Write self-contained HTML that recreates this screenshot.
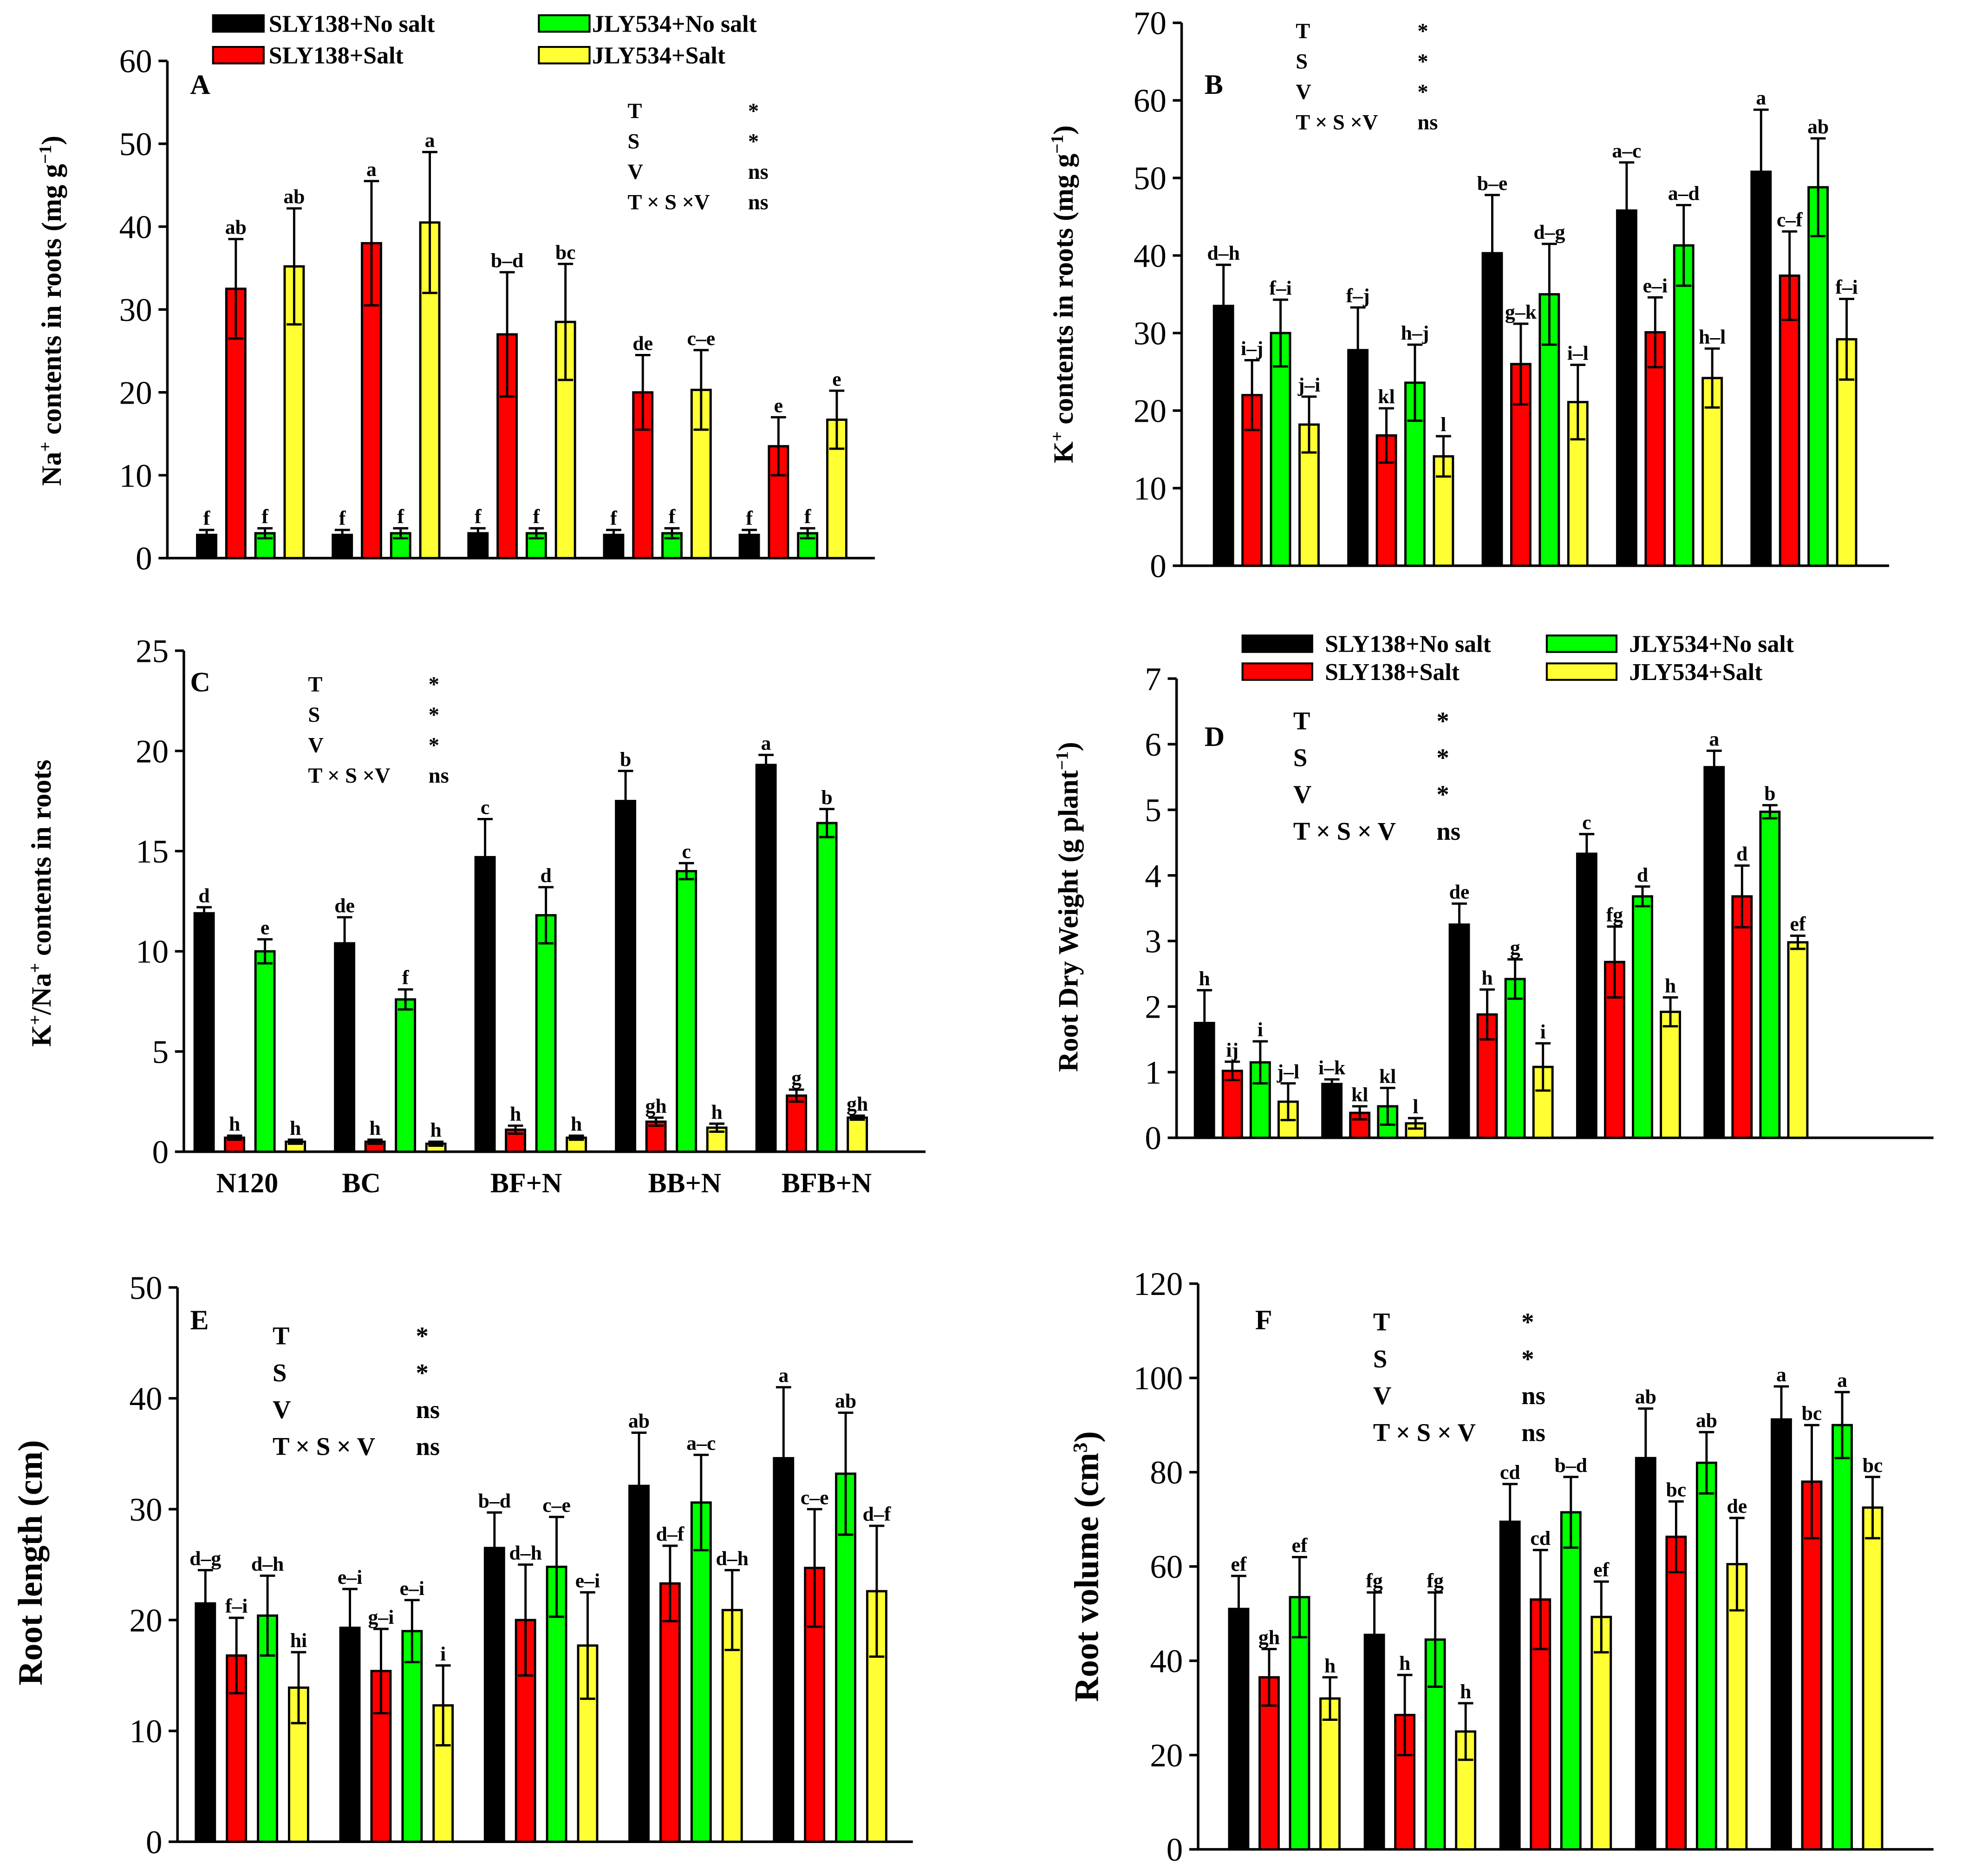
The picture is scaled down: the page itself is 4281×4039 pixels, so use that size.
<!DOCTYPE html>
<html><head><meta charset="utf-8"><style>
html,body{margin:0;padding:0;background:#fff}
svg{display:block}
text{font-family:"Liberation Serif",serif;font-weight:bold;fill:#000}
text.tick{font-weight:normal}
</style></head><body>
<svg id="s" width="4281" height="4039" viewBox="0 0 1568 1479" preserveAspectRatio="none" xmlns="http://www.w3.org/2000/svg">
<g id="g"></g>
</svg>
<script>
// ---- data ----
const groups = ["N120","BC","BF+N","BB+N","BFB+N"];
const seriesNames = ["SLY138+No salt","SLY138+Salt","JLY534+No salt","JLY534+Salt"];
const aVals = [[2.8,2.8,3,2.8,2.8],[32.5,38,27,20,13.5],[3,3,3,3,3],[35.2,40.5,28.5,20.3,16.7]];
const aErr  = [[0.6,0.6,0.6,0.6,0.6],[6,7.5,7.5,4.5,3.5],[0.6,0.6,0.6,0.6,0.6],[7,8.5,7,4.8,3.5]];
const aLet  = [["f","f","f","f","f"],["ab","a","b–d","de","e"],["f","f","f","f","f"],["ab","a","bc","c–e","e"]];
const bVals = [[33.5,27.8,40.3,45.8,50.8],[22,16.8,26,30.1,37.4],[30,23.6,35,41.3,48.8],[18.2,14.1,21.1,24.2,29.2]];
const bErr  = [[5.3,5.5,7.5,6.2,8],[4.5,3.5,5.2,4.5,5.7],[4.3,4.9,6.5,5.2,6.3],[3.6,2.6,4.8,3.8,5.2]];
const bLet  = [["d–h","f–j","b–e","a–c","a"],["i–j","kl","g–k","e–i","c–f"],["f–i","h–j","d–g","a–d","ab"],["j–i","l","i–l","h–l","f–i"]];
const cVals = [[11.9,10.4,14.7,17.5,19.3],[0.7,0.5,1.1,1.5,2.8],[10,7.6,11.8,14,16.4],[0.5,0.4,0.7,1.2,1.7]];
const cErr  = [[0.3,1.3,1.9,1.5,0.5],[0.1,0.1,0.2,0.2,0.3],[0.6,0.5,1.4,0.4,0.7],[0.1,0.1,0.1,0.2,0.1]];
const cLet  = [["d","de","c","b","a"],["h","h","h","gh","g"],["e","f","d","c","b"],["h","h","h","h","gh"]];
const dVals = [[1.75,0.82,3.25,4.33,5.65],[1.02,0.38,1.88,2.68,3.68],[1.15,0.48,2.42,3.68,4.97],[0.55,0.22,1.08,1.92,2.98]];
const dErr  = [[0.5,0.07,0.32,0.3,0.25],[0.14,0.1,0.38,0.54,0.47],[0.32,0.28,0.3,0.15,0.1],[0.28,0.08,0.36,0.22,0.1]];
const dLet  = [["h","i–k","de","c","a"],["ij","kl","h","fg","d"],["i","kl","g","d","b"],["j–l","l","i","h","ef"]];
const eVals = [[21.5,19.3,26.5,32.1,34.6],[16.8,15.4,20,23.3,24.7],[20.4,19,24.8,30.6,33.2],[13.9,12.3,17.7,20.9,22.6]];
const eErr  = [[3,3.5,3.2,4.8,6.4],[3.4,3.8,5,3.4,5.3],[3.6,2.8,4.5,4.3,5.5],[3.2,3.6,4.8,3.6,5.9]];
const eLet  = [["d–g","e–i","b–d","ab","a"],["f–i","g–i","d–h","d–f","c–e"],["d–h","e–i","c–e","a–c","ab"],["hi","i","e–i","d–h","d–f"]];
const fVals = [[51,45.5,69.5,83,91.2],[36.5,28.5,53,66.3,78],[53.5,44.5,71.5,82,90],[32,25,49.3,60.5,72.5]];
const fErr  = [[7,9,8,10.5,7],[6,8.5,10.5,7.5,12],[8.5,10,7.5,6.5,7],[4.5,6,7.5,9.8,6.5]];
const fLet  = [["ef","fg","cd","ab","a"],["gh","h","cd","bc","bc"],["ef","fg","b–d","ab","a"],["h","h","ef","de","bc"]];
const colors = ["#000000","#ff0000","#00ff00","#ffff33"];

const NS="http://www.w3.org/2000/svg";
const G=document.getElementById('g');
function mk(tag,attrs,parent){const e=document.createElementNS(NS,tag);for(const k in attrs)e.setAttribute(k,attrs[k]);(parent||G).appendChild(e);return e;}
function txt(x,y,s,size,anchor,parent){const t=mk('text',{x:x,y:y,'font-size':size,'text-anchor':anchor||'start'},parent);t.textContent=s;return t;}

function panel(cfg){
  const P=mk('g',{});
  
  
  const yS=v=>cfg.y0-(v/cfg.max)*(cfg.y0-cfg.yTop);
  const xS=(gi,si)=>cfg.bx0+gi*cfg.gsp+si*cfg.dx;
  const ax=mk('path',{d:`M${cfg.ax},${cfg.yTop}V${cfg.y0}H${cfg.xEnd}`,stroke:'#000','stroke-width':2,fill:'none'},P);
  
  
  for(let v=0;v<=cfg.max+1e-9;v+=cfg.step){
    const y=yS(v);
    mk('line',{x1:cfg.ax-7,x2:cfg.ax,y1:y,y2:y,stroke:'#000','stroke-width':2},P);
    const t=txt(cfg.ax-12,y+9,String(Math.round(v)),26,'end',P);
    t.setAttribute('class','tick');
    
    
  }
  const bw=15;
  for(let si=0;si<4;si++)for(let gi=0;gi<5;gi++){
    const v=cfg.vals[si][gi],e=cfg.err[si][gi];
    const x=xS(gi,si),y=yS(v);
    const r=mk('rect',{x:x-bw/2,y:y,width:bw,height:cfg.y0-y,fill:colors[si],stroke:'#000','stroke-width':1.8},P);
    
    
    const yt=yS(v+e),yb=yS(Math.max(0,v-e));
    mk('line',{x1:x,x2:x,y1:yt,y2:yb,stroke:'#000','stroke-width':1.8},P);
    mk('line',{x1:x-6,x2:x+6,y1:yt,y2:yt,stroke:'#000','stroke-width':1.8},P);
    mk('line',{x1:x-6,x2:x+6,y1:yb,y2:yb,stroke:'#000','stroke-width':1.8},P);
    const l=txt(x,yt-4,cfg.lets[si][gi],cfg.lf||16,'middle',P);
    
    
  }
  const pl=txt(cfg.lx,cfg.ly,cfg.id,22,'start',P);
  
  
  const names=["T","S","V",cfg.txs];
  for(let i=0;i<4;i++){
    const a=txt(cfg.sx,cfg.sy+i*cfg.sgap,names[i],cfg.sf,'start',P);
    
    
    const b=txt(cfg.svx,cfg.sy+i*cfg.sgap,cfg.sv[i],cfg.sf,'start',P);
    
    
  }
  const t=mk('text',{x:0,y:0,'font-size':cfg.tf||22,'text-anchor':'middle',transform:`translate(${cfg.tx},${cfg.ty}) rotate(-90)`},P);
  t.innerHTML=cfg.title;
  
  
}

panel({id:'A',ax:132,y0:440,yTop:48,max:60,step:10,xEnd:690,bx0:163,gsp:107,dx:23,vals:aVals,err:aErr,lets:aLet,lx:150,ly:74,sx:495,sy:93,sgap:24,svx:590,sf:17,sv:['*','*','ns','ns'],txs:'T × S ×V',tx:48,ty:245,title:'Na<tspan baseline-shift="super" font-size="14">+</tspan> contents in roots (mg g<tspan baseline-shift="super" font-size="14">−1</tspan>)'});
panel({id:'B',ax:932,y0:446,yTop:18,max:70,step:10,xEnd:1490,bx0:965,gsp:106,dx:22.5,vals:bVals,err:bErr,lets:bLet,lx:950,ly:74,sx:1022,sy:30,sgap:24,svx:1118,sf:17,sv:['*','*','*','ns'],txs:'T × S ×V',tx:846,ty:232,title:'K<tspan baseline-shift="super" font-size="14">+</tspan> contents in roots (mg g<tspan baseline-shift="super" font-size="14">−1</tspan>)'});
panel({id:'C',ax:145,y0:908,yTop:513,max:25,step:5,xEnd:730,bx0:161,gsp:110.8,dx:24,vals:cVals,err:cErr,lets:cLet,lx:150,ly:545,sx:243,sy:545,sgap:24,svx:338,sf:17,sv:['*','*','*','ns'],txs:'T × S ×V',tx:40,ty:712,title:'K<tspan baseline-shift="super" font-size="14">+</tspan>/Na<tspan baseline-shift="super" font-size="14">+</tspan> contents in roots'});
panel({id:'D',ax:928,y0:897,yTop:535,max:7,step:1,xEnd:1525,bx0:950,gsp:100.5,dx:22,vals:dVals,err:dErr,lets:dLet,lx:950,ly:588,sx:1020,sy:575,sgap:29,svx:1133,sf:20,sv:['*','*','*','ns'],txs:'T × S × V',tx:850,ty:715,title:'Root Dry Weight (g plant<tspan baseline-shift="super" font-size="14">−1</tspan>)'});
panel({id:'E',ax:140,y0:1452,yTop:1015,max:50,step:10,xEnd:720,bx0:162,gsp:114,dx:24.5,vals:eVals,err:eErr,lets:eLet,lx:150,ly:1048,sx:215,sy:1060,sgap:29,svx:328,sf:20,sv:['*','*','ns','ns'],txs:'T × S × V',tx:33,ty:1232,tf:27,title:'Root length (cm)'});
panel({id:'F',ax:945,y0:1458,yTop:1012,max:120,step:20,xEnd:1525,bx0:977,gsp:107,dx:24,vals:fVals,err:fErr,lets:fLet,lx:990,ly:1048,sx:1083,sy:1049,sgap:29,svx:1200,sf:20,sv:['*','*','ns','ns'],txs:'T × S × V',tx:866,ty:1235,tf:27,title:'Root volume (cm<tspan baseline-shift="super" font-size="16">3</tspan>)'});

const xPos=[195,285,415,540,652];
for(let i=0;i<5;i++){const t=txt(xPos[i],940,groups[i],22,'middle');

}

function legend(x1,x2,lx1,lx2,y1,y2,fs,rw,id){
  const L=mk('g',{});
  
  
  const pos=[[x1,lx1,y1],[x1,lx1,y2],[x2,lx2,y1],[x2,lx2,y2]];
  for(let i=0;i<4;i++){
    const [rx,tx,y]=pos[i];
    const r=mk('rect',{x:rx,y:y-13,width:rw,height:13,fill:colors[i],stroke:'#000','stroke-width':1.5},L);
    
    
    const t=txt(tx,y,seriesNames[i],fs,'start',L);
    
    
  }
}
legend(168,425,212,467,25,50,19,40,'top');
legend(980,1220,1045,1285,514,536,19,55,'d');
</script>
</body></html>
